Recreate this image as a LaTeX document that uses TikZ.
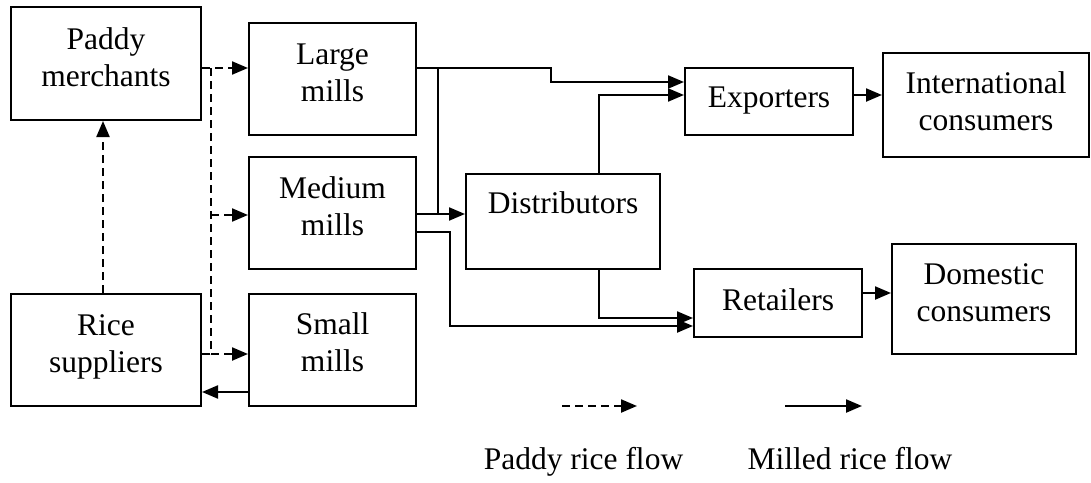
\documentclass[tikz,border=0pt]{standalone}
\usepackage{fontspec}
\setmainfont{Liberation Serif}
\usetikzlibrary{arrows.meta,calc}
\newcommand\twoline[2]{\begin{tabular}[t]{@{}c@{}}#1\\#2\end{tabular}}

\begin{document}
\begin{tikzpicture}[x=1pt,y=-1pt,
  box/.style={draw, line width=2pt, rectangle, inner sep=0pt},
  lbl/.style={anchor=base, inner sep=0pt, font=\fontsize{31.5}{37}\selectfont},
  link/.style={line width=2.2pt},
  flow/.style={link, -{Triangle[length=16pt,width=13pt]}},
  dashlink/.style={link, dash pattern=on 8pt off 5pt},
  paddy/.style={flow, dash pattern=on 8pt off 5pt}]

\useasboundingbox (0,0) rectangle (1091,482);

% boxes
\node[box, minimum width=190pt, minimum height=113pt] (pm) at (106,63.5) {};
\node[box, minimum width=190pt, minimum height=112pt] (rs) at (106,350) {};
\node[box, minimum width=167pt, minimum height=112pt] (lm) at (332.5,79) {};
\node[box, minimum width=167pt, minimum height=112pt] (mm) at (332.5,213) {};
\node[box, minimum width=167pt, minimum height=112pt] (sm) at (332.5,350) {};
\node[box, minimum width=194pt, minimum height=95pt] (di) at (563,221.5) {};
\node[box, minimum width=168pt, minimum height=67pt] (ex) at (769,101.5) {};
\node[box, minimum width=206pt, minimum height=104pt] (ic) at (986,105) {};
\node[box, minimum width=168pt, minimum height=68pt] (rt) at (778,303) {};
\node[box, minimum width=184pt, minimum height=110pt] (dc) at (984,299) {};

% box texts
\node[lbl] (pmT) at (106,49) {\twoline{Paddy}{merchants}};
\node[lbl] (rsT) at (106,335) {\twoline{Rice}{suppliers}};
\node[lbl] (lmT) at (332.5,64) {\twoline{Large}{mills}};
\node[lbl] (mmT) at (332.5,198) {\twoline{Medium}{mills}};
\node[lbl] (smT) at (332.5,334) {\twoline{Small}{mills}};
\node[lbl] (diT) at (563,213) {Distributors};
\node[lbl] (exT) at (769,107) {Exporters};
\node[lbl] (icT) at (986,93) {\twoline{International}{consumers}};
\node[lbl] (rtT) at (778,310) {Retailers};
\node[lbl] (dcT) at (984,284) {\twoline{Domestic}{consumers}};

% paddy rice flows
\coordinate (dvTop) at (211,68);
\coordinate (dvMid) at (211,215);
\coordinate (dvBot) at (211,354);
\draw[paddy] ($(pm.east)+(0,4.5)$) -- ($(lm.west)+(0,-11)$);
\draw[dashlink] (dvTop) -- (dvBot);
\draw[paddy] (dvMid) -- (dvMid -| mm.west);
\draw[paddy] (dvBot) -- (dvBot -| sm.west);
\draw[dashlink] (dvBot -| rs.east) -- (dvBot);
\draw[paddy] ($(rs.north)+(-3,0)$) -- ($(pm.south)+(-3,0)$);

% milled rice flows
\draw[flow] ($(sm.west)+(0,42)$) -- ($(rs.east)+(0,42)$);
\coordinate (a1) at (438,68);
\coordinate (a2) at (551,68);
\coordinate (a3) at (551,82);
\coordinate (a4) at (438,214);
\draw[flow] ($(lm.east)+(0,-11)$) -- (a2) -- (a3) -- (a3 -| ex.west);
\draw[link] (a1) -- (a4);
\draw[flow] (mm.east |- a4) -- (a4 -| di.west);
\coordinate (b1) at (450,232);
\coordinate (b2) at (450,326);
\draw[flow] (mm.east |- b1) -- (b1) -- (b2) -- (b2 -| rt.west);
\coordinate (c1) at (599,318);
\draw[flow] (di.south -| c1) -- (c1) -- (c1 -| rt.west);
\coordinate (c2) at (599,95);
\draw[flow] (di.north -| c2) -- (c2) -- (c2 -| ex.west);
\draw[flow] (ex.east |- c2) -- (c2 -| ic.west);
\coordinate (d1) at (878,293);
\draw[flow] (rt.east |- d1) -- (d1 -| dc.west);

% legend
\coordinate (lgPa) at (562,406);
\coordinate (lgPb) at (637,406);
\coordinate (lgMa) at (785,406);
\coordinate (lgMb) at (862,406);
\draw[paddy] (lgPa) -- (lgPb);
\draw[flow] (lgMa) -- (lgMb);
\node[lbl] (lgP) at (583.5,469) {Paddy rice flow};
\node[lbl] (lgM) at (850,469) {Milled rice flow};
\end{tikzpicture}
\end{document}
